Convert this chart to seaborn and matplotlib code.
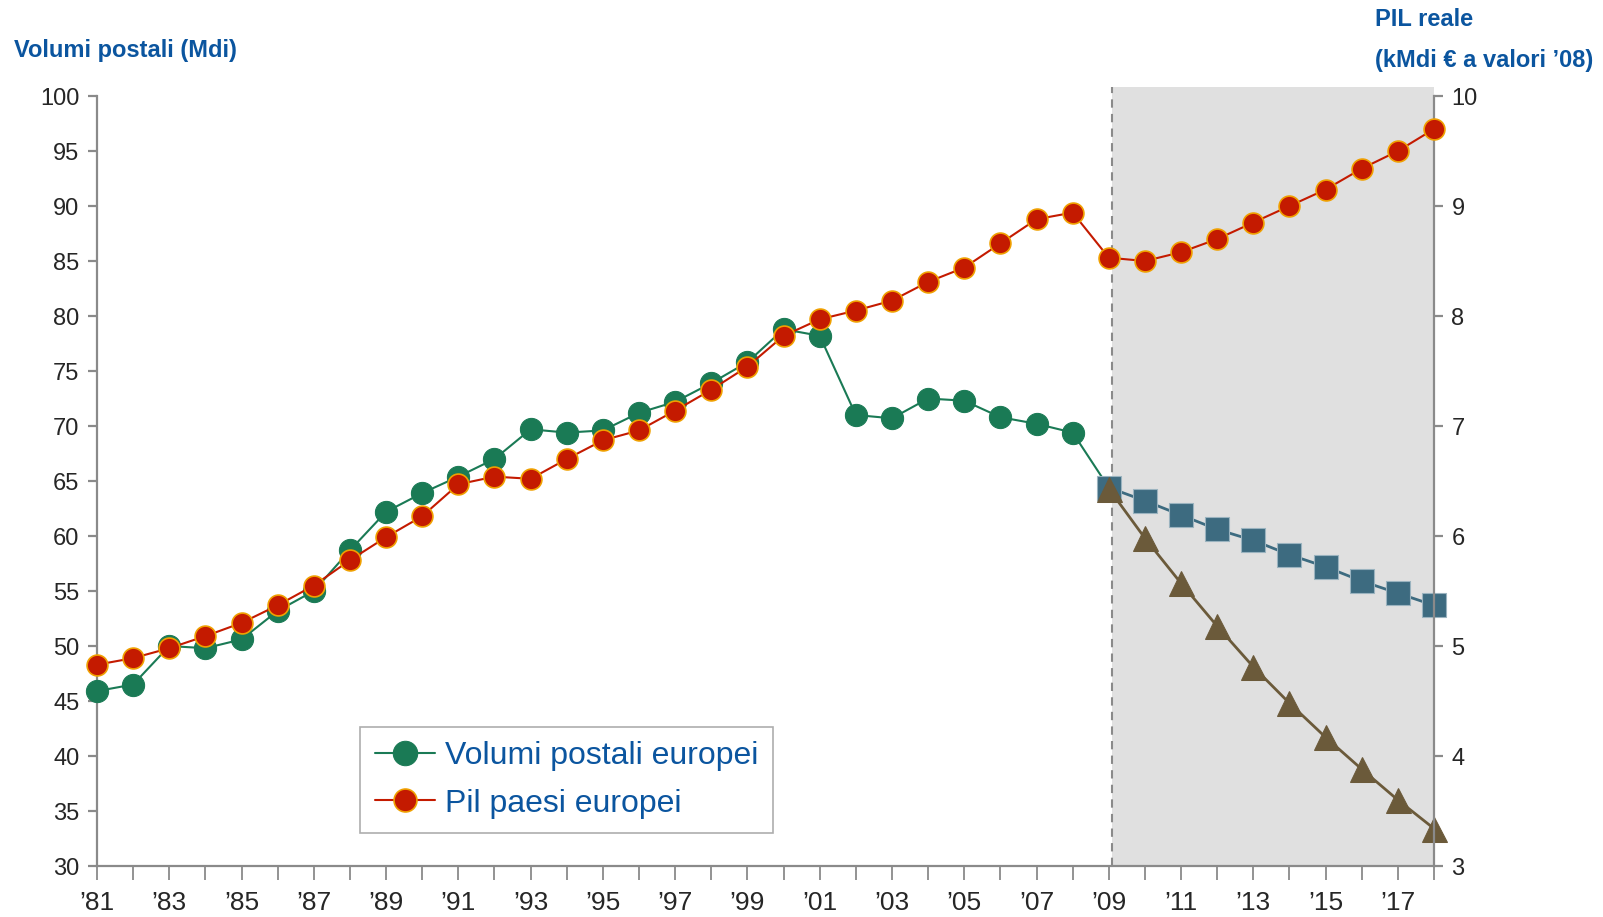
import matplotlib
matplotlib.use('Agg')
import matplotlib.pyplot as plt
import numpy as np
import pandas as pd
import seaborn as sns

# data
anni = list(range(1981, 2019))
anni_storici = list(range(1981, 2010))
anni_prev = list(range(2009, 2019))

volumi_postali = [45.9, 46.5, 50.0, 49.8, 50.6, 53.2, 55.0, 58.7, 62.2, 63.9,
                  65.4, 67.0, 69.7, 69.4, 69.6, 71.2, 72.2, 73.9, 75.8, 78.8,
                  78.2, 71.0, 70.7, 72.5, 72.3, 70.8, 70.2, 69.4, 64.4]

# PIL reale (kMdi euro, right axis)
pil = [4.83, 4.89, 4.98, 5.09, 5.21, 5.37, 5.55, 5.78, 5.99, 6.18,
       6.47, 6.54, 6.52, 6.70, 6.87, 6.96, 7.14, 7.33, 7.54, 7.82,
       7.97, 8.05, 8.14, 8.31, 8.44, 8.66, 8.88, 8.94, 8.53, 8.50,
       8.58, 8.70, 8.85, 9.00, 9.15, 9.34, 9.50, 9.70]

scenario_quadrati = [64.4, 63.2, 61.9, 60.6, 59.6, 58.3, 57.2, 55.9, 54.8, 53.7]
scenario_triangoli = [64.3, 59.8, 55.7, 51.8, 48.1, 44.8, 41.7, 38.8, 36.0, 33.4]

tick_anni = [f"\u2019{str(a)[2:]}" for a in anni]

sns.set_style('white')
plt.rcParams['font.family'] = ['Liberation Sans', 'DejaVu Sans']

blu_testo = '#0b559f'
grigio = '#8a8a8a'

fig = plt.figure(figsize=(16.03, 9.17), dpi=100)
ax = fig.add_axes([0.0605, 0.0556, 0.8341, 0.8397])
ax2 = ax.twinx()

# forecast area
ax.axvspan(2009.1, 2018, ymin=0, ymax=1.012, color='#e0e0e0', lw=0, clip_on=False, zorder=0)
ax.axvline(2009.1, ymin=0, ymax=1.012, color=grigio, ls=(0, (4, 3)), lw=1.5, clip_on=False, zorder=1)

df_vol = pd.DataFrame({'anno': anni_storici, 'valore': volumi_postali})
df_pil = pd.DataFrame({'anno': anni, 'valore': pil})
df_q = pd.DataFrame({'anno': anni_prev, 'valore': scenario_quadrati})
df_t = pd.DataFrame({'anno': anni_prev, 'valore': scenario_triangoli})

sns.lineplot(data=df_vol, x='anno', y='valore', ax=ax, color='#1a7a55', lw=1.5,
             marker='o', markersize=16, markeredgecolor='#1a7a55', clip_on=False,
             zorder=3, label='Volumi postali europei')
sns.lineplot(data=df_q, x='anno', y='valore', ax=ax, color='#3d6b80', lw=2,
             marker='s', markersize=17.5, markeredgecolor='#9ab3bf', markeredgewidth=0.8,
             clip_on=False, zorder=4)
sns.lineplot(data=df_t, x='anno', y='valore', ax=ax, color='#6b5a3a', lw=2,
             marker='^', markersize=18, markeredgecolor='#6b5a3a', clip_on=False, zorder=5)
sns.lineplot(data=df_pil, x='anno', y='valore', ax=ax2, color='#c41a00', lw=1.5,
             marker='o', markersize=15, markerfacecolor='#c41a00', markeredgecolor='#f0a000',
             markeredgewidth=1.2, clip_on=False, zorder=3, label='Pil paesi europei')

ax.set_xlim(1981, 2018)
ax.set_ylim(30, 100)
ax2.set_ylim(3, 10)
ax.set_yticks(range(30, 101, 5))
ax2.set_yticks(range(3, 11))
ax.set_xticks(anni)
ax.set_xticklabels([t if i % 2 == 0 else '' for i, t in enumerate(tick_anni)])
ax.set_xlabel('')
ax.set_ylabel('')
ax2.set_ylabel('')

for a in (ax, ax2):
    for s in a.spines.values():
        s.set_visible(False)
    a.grid(False)
ax.spines['left'].set_visible(True)
ax.spines['bottom'].set_visible(True)
ax2.spines['right'].set_visible(True)
for s in (ax.spines['left'], ax.spines['bottom'], ax2.spines['right']):
    s.set_color(grigio)
    s.set_linewidth(1.6)

ax.tick_params(axis='y', direction='out', length=6.5, width=1.6, color=grigio, pad=6,
               labelsize=17, left=True)
ax.tick_params(axis='x', direction='out', length=10, width=1.3, color=grigio, pad=8,
               labelsize=19, bottom=True)
ax2.tick_params(axis='y', direction='out', length=6.5, width=1.6, color=grigio, pad=6,
                labelsize=17, right=True)
for lab in ax.get_xticklabels():
    lab.set_family(['Liberation Sans Narrow', 'Liberation Sans', 'DejaVu Sans'])

# legend from both axes
h1, l1 = ax.get_legend_handles_labels()
h2, l2 = ax2.get_legend_handles_labels()
if ax2.get_legend():
    ax2.get_legend().remove()
leg = ax.legend(h1 + h2, l1 + l2, loc='lower left', bbox_to_anchor=(0.197, 0.043),
                fontsize=23, frameon=True, fancybox=False, edgecolor='#999999',
                borderpad=0.45, handlelength=1.9, handletextpad=0.3, labelspacing=0.55,
                borderaxespad=0, markerscale=1.1)
leg.get_frame().set_linewidth(1.2)
for t in leg.get_texts():
    t.set_color(blu_testo)
leg.set_zorder(10)

fig.text(14 / 1603, 1 - 50 / 917, 'Volumi postali (Mdi)', color=blu_testo, fontsize=17,
         fontweight='bold', ha='left', va='center')
fig.text(1375 / 1603, 1 - 19 / 917, 'PIL reale', color=blu_testo, fontsize=17,
         fontweight='bold', ha='left', va='center')
fig.text(1375 / 1603, 1 - 61 / 917, '(kMdi \u20ac a valori \u201908)', color=blu_testo,
         fontsize=17, fontweight='bold', ha='left', va='center')

fig.savefig('out.png', dpi=100)
